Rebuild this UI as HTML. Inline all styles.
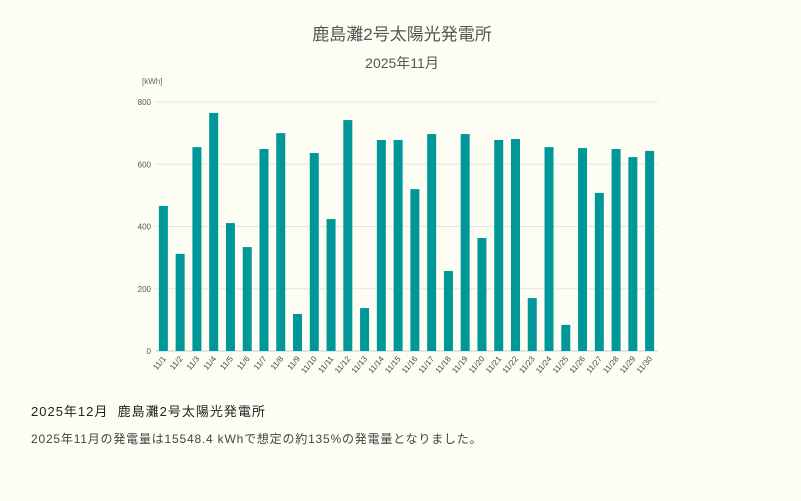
<!DOCTYPE html>
<html><head><meta charset="utf-8"><style>
body{margin:0;background:#fdfdf4;font-family:"Liberation Sans","Noto Sans CJK JP",sans-serif;}
#wrap{position:relative;width:801px;height:501px;overflow:hidden;}
.t{position:absolute;color:#333;}
</style></head><body><div id="wrap">
<svg id="chart" width="801" height="501" style="position:absolute;left:0;top:0">
<text x="402" y="40" text-anchor="middle" font-size="17" fill="#555">鹿島灘2号太陽光発電所</text>
<text x="402" y="68" text-anchor="middle" font-size="14" fill="#555">2025年11月</text>
<text x="142" y="84" font-size="8" fill="#666">[kWh]</text>
<g id="grid"></g><g id="bars"></g><g id="xlabels"></g>
</svg>
<div class="t" style="left:31px;top:401px;font-size:13px;color:#222;letter-spacing:1px">2025年12月&nbsp;&nbsp;鹿島灘2号太陽光発電所</div>
<div class="t" style="left:31px;top:430px;font-size:12px;color:#444;letter-spacing:0.8px">2025年11月の発電量は15548.4 kWhで想定の約135%の発電量となりました。</div>
</div>
<script>
const categories=["11/1","11/2","11/3","11/4","11/5","11/6","11/7","11/8","11/9","11/10","11/11","11/12","11/13","11/14","11/15","11/16","11/17","11/18","11/19","11/20","11/21","11/22","11/23","11/24","11/25","11/26","11/27","11/28","11/29","11/30"];
const values=[466,312,655,765,411,334,649,700,119,636,424,742,138,678,678,520,697,257,697,363,678,681,170,655,84,652,508,649,623,643];
const yTicks=[0,200,400,600,800];
const NS="http://www.w3.org/2000/svg";
const x0=155,x1=658,y0=351,y1=102,yMax=800;
const band=(x1-x0)/categories.length;
const ys=v=>y0-(v/yMax)*(y0-y1);
const xs=i=>x0+band*(i+0.5);
function mk(t,a){const e=document.createElementNS(NS,t);for(const k in a)e.setAttribute(k,a[k]);return e;}
const g=document.getElementById('grid');
yTicks.forEach(t=>{
 const l=mk('line',{x1:x0,x2:x1,y1:ys(t),y2:ys(t),stroke:t===0?'#ccc':'#e6e6e0','stroke-width':1});
 
 
 g.appendChild(l);
 const tx=mk('text',{x:x0-4,y:ys(t)+3,'text-anchor':'end','font-size':8,fill:'#555'});
 tx.textContent=t;
 
 
 g.appendChild(tx);
});
const b=document.getElementById('bars'),xl=document.getElementById('xlabels');
values.forEach((v,i)=>{
 const r=mk('rect',{x:xs(i)-4.5,y:ys(v),width:9,height:y0-ys(v),fill:'#009799'});
 
 
 b.appendChild(r);
 const tx=mk('text',{x:xs(i)+3,y:y0+8,'text-anchor':'end','font-size':8,fill:'#444',transform:`rotate(-50 ${xs(i)+3} ${y0+8})`});
 tx.textContent=categories[i];
 
 
 xl.appendChild(tx);
});
</script></body></html>
